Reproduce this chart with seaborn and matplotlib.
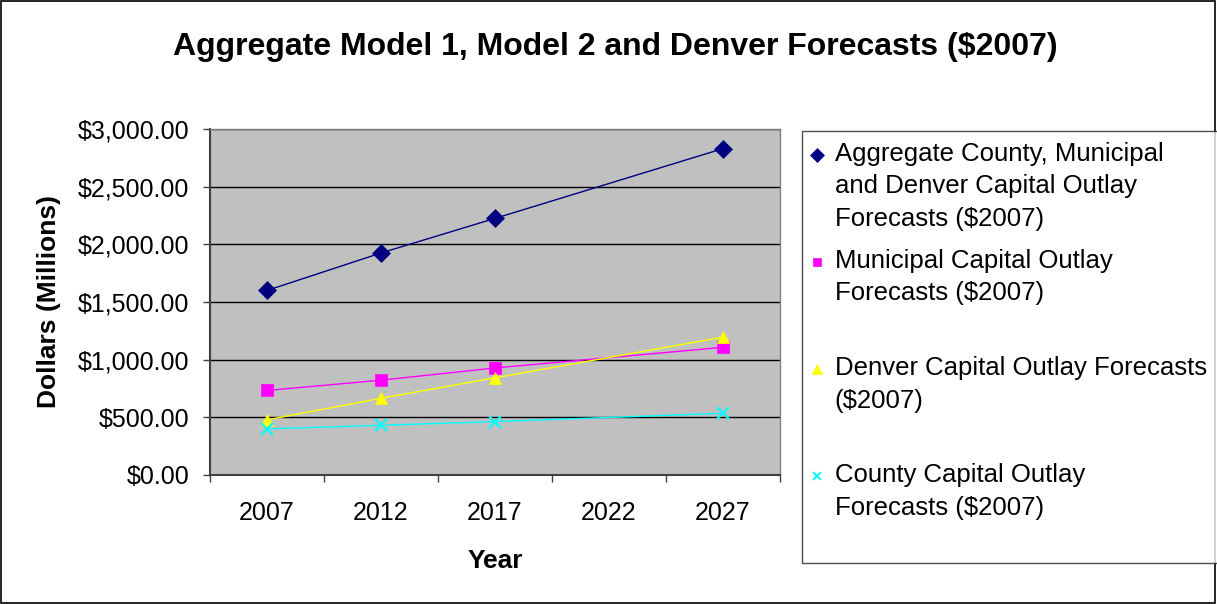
import numpy as np
import pandas as pd
import matplotlib.pyplot as plt
import seaborn as sns
from matplotlib.lines import Line2D
from matplotlib.patches import Rectangle
from matplotlib.ticker import FuncFormatter
from matplotlib.legend_handler import HandlerLine2D

# categories on the x axis (2022 has no data)
years = ["2007", "2012", "2017", "2022", "2027"]
data_years = ["2007", "2012", "2017", "2027"]

# values in $ millions
aggregate = [1600, 1925, 2225, 2830]
municipal = [733, 822, 928, 1107]
denver = [478, 665, 843, 1195]
county = [400, 431, 463, 535]

labels = [
    "Aggregate County, Municipal\nand Denver Capital Outlay\nForecasts ($2007)",
    "Municipal Capital Outlay\nForecasts ($2007)",
    "Denver Capital Outlay Forecasts\n($2007)",
    "County Capital Outlay\nForecasts ($2007)",
]
colors = ["#000080", "#FF00FF", "#FFFF00", "#00FFFF"]
markers = ["D", "s", "^", "x"]
msizes = [9.5, 8, 9, 8.5]

sns.set_theme(style="white")
plt.rcParams['font.family'] = ['Liberation Sans', 'DejaVu Sans']
plt.rcParams['text.color'] = 'black'
plt.rcParams['axes.labelcolor'] = 'black'

rows = []
for lab, vals in zip(labels, [aggregate, municipal, denver, county]):
    for y, v in zip(data_years, vals):
        rows.append({"Series": lab, "Year": y, "pos": years.index(y), "Value": v})
df = pd.DataFrame(rows)

fig = plt.figure(figsize=(12.17, 6.04), dpi=100)
ax = fig.add_axes([210 / 1217, 1 - 475 / 604, 570 / 1217, 346 / 604])
ax.set_facecolor("#C0C0C0")

for lab, c, m, s in zip(labels, colors, markers, msizes):
    sub = df[df["Series"] == lab]
    sns.lineplot(data=sub, x="pos", y="Value", ax=ax, color=c, marker=m,
                 markersize=s, markeredgecolor=c, markerfacecolor=c,
                 markeredgewidth=1.6 if m == "x" else 0.5, linewidth=1.0,
                 legend=False, zorder=3)

ax.set_xlim(-0.5, 4.5)
ax.set_ylim(0, 3000)
ax.set_yticks(np.arange(0, 3001, 500))
ax.yaxis.set_major_formatter(FuncFormatter(lambda v, p: f"${v:,.2f}"))
ax.set_xticks(range(len(years)))
ax.set_xticklabels(years)
ax.set_xticks(np.arange(-0.5, len(years), 1), minor=True)
ax.tick_params(axis="x", which="major", length=0, pad=19, labelsize=18, colors="black")
ax.tick_params(axis="x", which="minor", length=5, width=1, direction="out", bottom=True, color="#404040")
ax.tick_params(axis="y", length=5, width=1, direction="out", left=True, pad=10, labelsize=18,
               colors="black")
ax.tick_params(axis="y", color="#404040")
ax.grid(axis="y", color="black", linewidth=1)
ax.set_axisbelow(True)
for side in ["top", "right"]:
    ax.spines[side].set_color("#808080")
    ax.spines[side].set_linewidth(1)
for side in ["left", "bottom"]:
    ax.spines[side].set_color("#404040")
    ax.spines[side].set_linewidth(1.5)

ax.set_xlabel("Year", fontsize=19, fontweight="bold")
ax.set_ylabel("Dollars (Millions)", fontsize=19, fontweight="bold")
ax.xaxis.set_label_coords(0.5, -0.215)
ax.yaxis.set_label_coords(-0.262, 0.5)

fig.suptitle("Aggregate Model 1, Model 2 and Denver Forecasts ($2007)",
             x=615 / 1217, y=1 - 47 / 604, va="center", fontsize=23, fontweight="bold")


# legend marker sits on the first text line, like Excel
class TopHandler(HandlerLine2D):
    def __init__(self, shift, **kw):
        super().__init__(**kw)
        self.shift = shift

    def create_artists(self, legend, orig_handle, xdescent, ydescent, width, height,
                       fontsize, trans):
        return super().create_artists(legend, orig_handle, xdescent, ydescent - 2 * self.shift,
                                      width, height, fontsize, trans)


leg_fs = 18.5
handles = [Line2D([], [], linestyle="none", marker=m, color=c, markeredgecolor=c,
                  markersize=s * 0.75, markeredgewidth=1.4 if m == "x" else 0.5)
           for c, m, s in zip(colors, markers, msizes)]
# pad every entry to three lines so the entries are evenly spaced
leg_labels = [lab + "\n" * (2 - lab.count("\n")) for lab in labels]
leg = fig.legend(handles, leg_labels, loc="upper left",
                 bbox_to_anchor=(802 / 1217, 1 - 131 / 604), bbox_transform=fig.transFigure,
                 fontsize=leg_fs, frameon=True, fancybox=False, edgecolor="#202020",
                 handlelength=0.3, handletextpad=0.55, labelspacing=0.72,
                 borderpad=0.42, borderaxespad=0,
                 handler_map={h: TopHandler(leg_fs * 1.25) for h in handles})
leg.get_frame().set_linewidth(1)
for t in leg.get_texts():
    t.set_linespacing(1.44)

fig.add_artist(Rectangle((0.001, 0.002), 0.997, 0.996, transform=fig.transFigure,
                         fill=False, edgecolor="black", linewidth=1.2))

fig.savefig("out.png", dpi=100, facecolor="white")
